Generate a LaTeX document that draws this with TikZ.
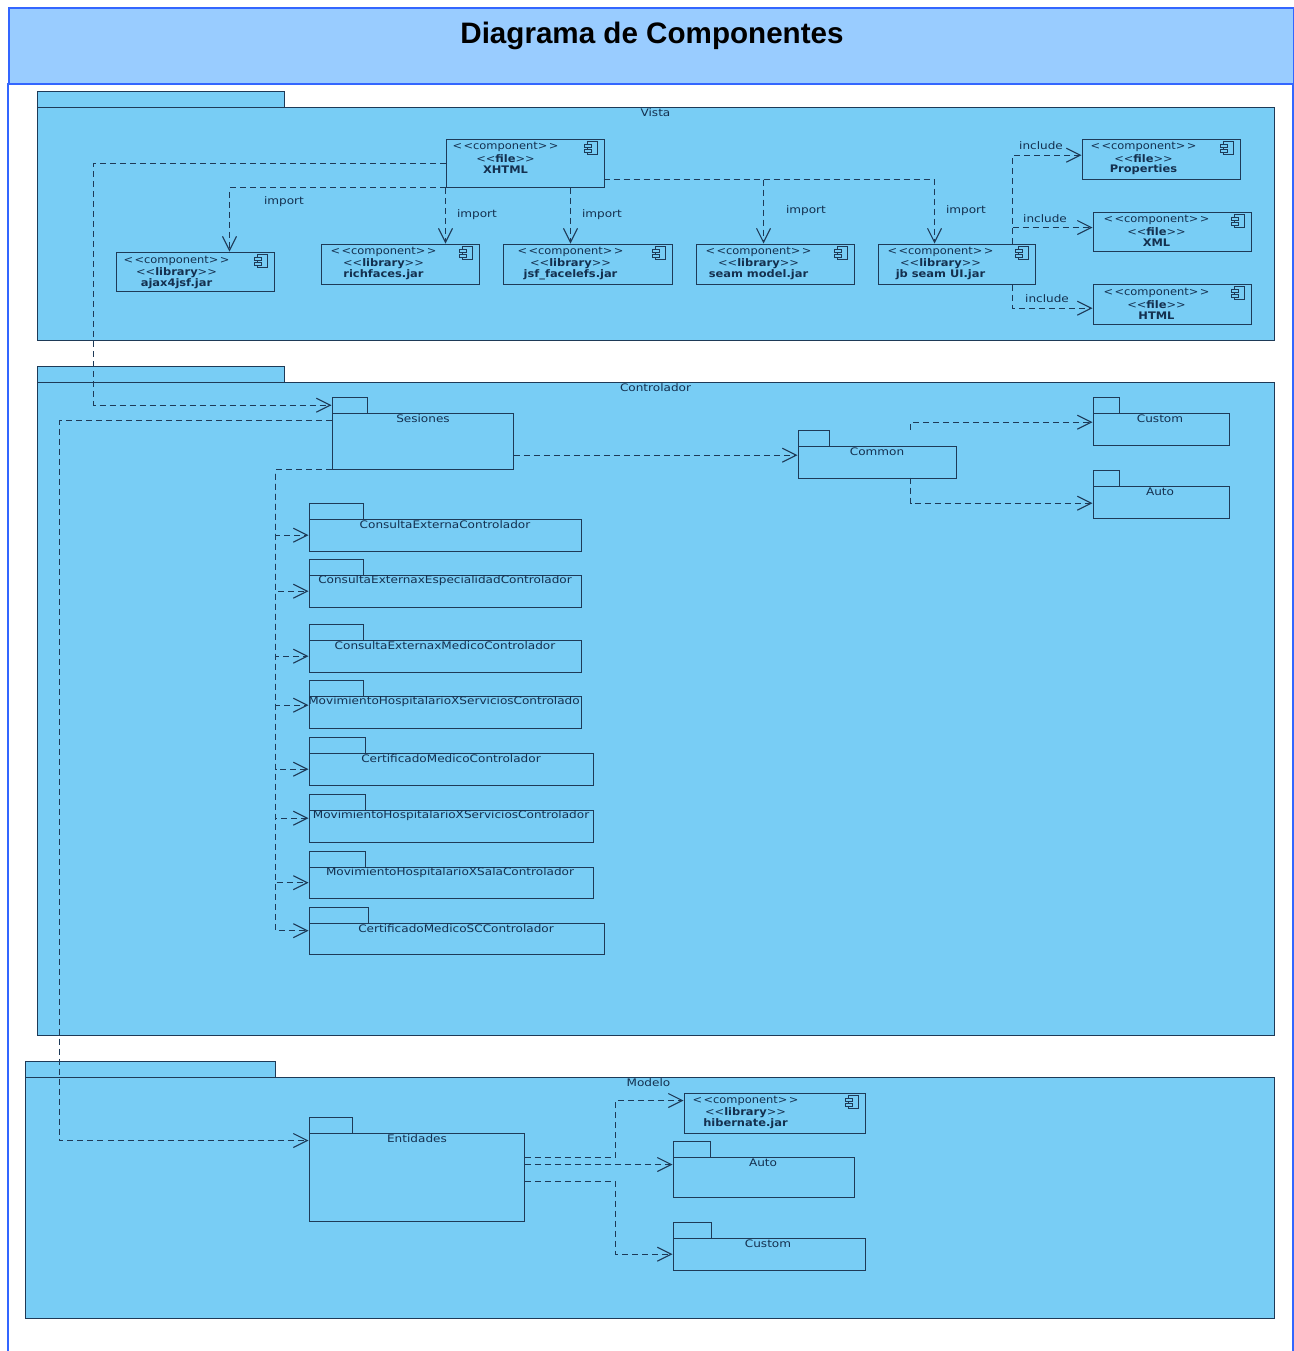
\documentclass[tikz,border=0pt]{standalone}
\usepackage{fontspec}
\setmainfont{Liberation Sans}
\newfontfamily\umlfont[FakeStretch=1.16]{DejaVu Sans}
\newfontfamily\compfont[FakeStretch=1.1]{DejaVu Sans}
\usetikzlibrary{arrows.meta,calc}

\definecolor{headfill}{HTML}{99CCFF}
\definecolor{headline}{HTML}{3366FF}
\definecolor{pkgfill}{HTML}{78CDF5}
\definecolor{pkgline}{HTML}{1E3A57}
\definecolor{umltext}{HTML}{14304F}

\tikzset{
	Box/.style={rectangle, draw=pkgline, fill=pkgfill, line width=0.7pt, inner sep=0pt, anchor=north west},
	Txt/.style={inner sep=0pt, font=\umlfont\fontsize{5.2}{6}\selectfont, text=umltext},
	CompTxt/.style={inner sep=0pt, font=\compfont\fontsize{5.2}{6}\selectfont, text=umltext},
	Icon/.style={draw=pkgline, line width=0.55pt, fill=pkgfill},
	arrow/.style={draw=pkgline, line width=0.55pt, dash pattern=on 3pt off 2pt, ->, >={Straight Barb[length=7pt,width=7pt]}}
}

% name, x1, y1, x2, y2 (px), centre of text, first text line, stereotype, title
\newcommand{\Comp}[9]{
	\pgfmathsetmacro{\bw}{(#4-#2)/2}
	\pgfmathsetmacro{\bh}{(#5-#3)/2}
	\node (#1) [Box, minimum width=\bw pt, minimum height=\bh pt] at (#2,#3) {};
	\node (#1a) [CompTxt] at (#6,#7+1.5) {<\kern0.7pt<component>\kern0.7pt>};
	\node (#1b) [CompTxt] at (#6,#7+12.8) {<{}<\textbf{#8}>{}>};
	\node (#1c) [CompTxt] at (#6,#7+24.1) {\textbf{#9}};
	\draw [Icon] ($(#1.north east)+(-17,3)$) rectangle ($(#1.north east)+(-7,16)$);
	\draw [Icon] ($(#1.north east)+(-20,6)$) rectangle ($(#1.north east)+(-13,9)$);
	\draw [Icon] ($(#1.north east)+(-20,11)$) rectangle ($(#1.north east)+(-13,14)$);
}

% name, x1, y1 (top of tab), x2, y2, right end of tab, centre of text, text
\newcommand{\Pack}[8]{
	\pgfmathsetmacro{\bw}{(#4-#2)/2}
	\pgfmathsetmacro{\bh}{(#5-#3-16)/2}
	\pgfmathsetmacro{\tw}{(#6-#2)/2}
	\node (#1tab) [Box, minimum width=\tw pt, minimum height=8pt] at (#2,#3) {};
	\node (#1) [Box, minimum width=\bw pt, minimum height=\bh pt] at (#2,#3+16) {};
	\node (#1txt) [Txt] at (#7,#3+22.5) {#8};
}

\begin{document}
\begin{tikzpicture}[x=0.5pt, y=-0.5pt]
	\useasboundingbox (0.5,0.5) rectangle (1294.5,1351.5);

	% frame and title
	\draw [headline, line width=1pt] (8,83) -- (8,1352);
	\draw [headline, line width=1pt] (1293,83) -- (1293,1352);
	\node (head) [Box, draw=headline, fill=headfill, line width=1pt, minimum width=642.5pt, minimum height=38pt] at (8,7) {};
	\node (title) [inner sep=0pt, font=\bfseries\fontsize{14.8}{18}\selectfont] at (652.5,36) {Diagrama de Componentes};

	% the three layers
	\Pack{vista}{37}{91}{1274}{340}{284}{656}{Vista}
	\Pack{controlador}{37}{366}{1274}{1035}{284}{656}{Controlador}
	\Pack{modelo}{25}{1061}{1274}{1318}{275}{649}{Modelo}

	\Comp{xhtml}{446}{139}{604}{187}{506}{146}{file}{XHTML}
	\Comp{ajax}{116}{252}{274}{291}{177}{260}{library}{ajax4jsf.jar}
	\Comp{richfaces}{321}{244}{479}{284}{384}{251}{library}{richfaces.jar}
	\Comp{jsf}{503}{244}{672}{284}{571}{251}{library}{jsf\_facelefs.jar}
	\Comp{seam}{696}{244}{854}{284}{759}{251}{library}{seam model.jar}
	\Comp{jbseam}{878}{244}{1035}{284}{941}{251}{library}{jb seam UI.jar}
	\Comp{properties}{1082}{139}{1240}{179}{1144}{146}{file}{Properties}
	\Comp{xml}{1093}{212}{1251}{251}{1157}{219}{file}{XML}
	\Comp{html}{1093}{284}{1251}{324}{1157}{292}{file}{HTML}

	\Pack{sesiones}{332}{397}{513}{469}{367}{423.5}{Sesiones}
	\Pack{common}{798}{430}{956}{478}{829}{877.5}{Common}
	\Pack{custom}{1093}{397}{1229}{445}{1119}{1160.5}{Custom}
	\Pack{auto}{1093}{470}{1229}{518}{1119}{1160.5}{Auto}
	\Pack{cec}{309}{503}{581}{551}{363}{445.5}{ConsultaExternaControlador}
	\Pack{ceec}{309}{559}{581}{607}{363}{445.5}{ConsultaExternaxEspecialidadControlador}
	\Pack{cemc}{309}{624}{581}{672}{363}{445.5}{ConsultaExternaxMedicoControlador}
	\Pack{mhsa}{309}{680}{581}{728}{363}{444.5}{MovimientoHospitalarioXServiciosControlado}
	\Pack{cmc}{309}{737}{593}{785}{365}{451.5}{CertificadoMedicoControlador}
	\Pack{mhsb}{309}{794}{593}{842}{365}{451.5}{MovimientoHospitalarioXServiciosControlador}
	\Pack{mhsala}{309}{851}{593}{898}{365}{450.5}{MovimientoHospitalarioXSalaControlador}
	\Pack{cmsc}{309}{907}{604}{954}{368}{456.5}{CertificadoMedicoSCControlador}

	\Pack{entidades}{309}{1117}{524}{1221}{352}{417.5}{Entidades}
	\Comp{hibernate}{684}{1093}{865}{1133}{746}{1100}{library}{hibernate.jar}
	\Pack{autom}{673}{1141}{854}{1197}{710}{763.5}{Auto}
	\Pack{customm}{673}{1222}{865}{1270}{711}{768.5}{Custom}

	% free corners of the connectors
	\coordinate (busa) at (94,300);
	\coordinate (busb) at (60,800);
	\coordinate (busc) at (276,700);
	\coordinate (busd) at (1013,200);
	\coordinate (buse) at (616,1130);
	\coordinate (busf) at (616,1220);
	\coordinate (ajaxin) at (230,252);
	\coordinate (richin) at (446,244);
	\coordinate (jsfin) at (571,244);
	\coordinate (seamin) at (764,244);
	\coordinate (jbin) at (935,244);
	\coordinate (xmlin) at (1093,228);
	\coordinate (xhtmlout) at (604,180);
	\coordinate (commonup) at (911,430);
	\coordinate (commondown) at (911,478);

	% from XHTML
	\draw [arrow] (xhtml.west) -| (busa) |- (sesionestab.west);
	\draw [arrow] (xhtml.south west) -| (ajaxin);
	\draw [arrow] (xhtml.south west) -- (richin);
	\draw [arrow] (jsfin |- xhtml.south) -- (jsfin);
	\draw [arrow] (xhtmlout) -| (jbin);
	\draw [arrow] (seamin |- xhtmlout) -- (seamin);
	\node (impa) [Txt] at (284.5,202.5) {import};
	\node (impb) [Txt] at (477.5,215.5) {import};
	\node (impc) [Txt] at (602.5,215.5) {import};
	\node (impd) [Txt] at (806.5,211.5) {import};
	\node (impe) [Txt] at (966.5,211.5) {import};

	% from jb seam UI
	\draw [arrow] (busd |- jbseam.north) |- ($(properties.west)+(0,-4)$);
	\draw [arrow] (busd |- xmlin) -- (xmlin);
	\draw [arrow] (busd |- jbseam.south) |- ($(html.west)+(0,4)$);
	\node (inca) [Txt] at (1041.5,146) {include};
	\node (incb) [Txt] at (1045.5,219) {include};
	\node (incc) [Txt] at (1047.5,299) {include};

	% from Sesiones
	\draw [arrow] ($(sesiones.east)+(0,14)$) -- ($(common.west)+(0,-7)$);
	\draw [arrow] ($(sesiones.north west)+(0,8)$) -| (busb) |- ($(entidades.north west)+(0,8)$);
	\foreach \n/\d in {cec/0, ceec/0, cemc/0, mhsa/-7, cmc/0, mhsb/-8, mhsala/0, cmsc/-8}
		\draw [arrow] (sesiones.south west) -- (busc |- sesiones.south west) |- ($(\n.west)+(0,\d)$);

	% from Common
	\draw [arrow] (commonup) |- ($(custom.west)+(0,-7)$);
	\draw [arrow] (commondown) |- ($(auto.west)+(0,1)$);

	% from Entidades
	\draw [arrow] ($(entidades.north east)+(0,25)$) -| (buse) |- ($(hibernate.north west)+(0,8)$);
	\draw [arrow] ($(entidades.north east)+(0,32)$) -- ($(autom.north west)+(0,8)$);
	\draw [arrow] ($(entidades.north east)+(0,49)$) -| (busf) |- (customm.west);
\end{tikzpicture}
\end{document}
